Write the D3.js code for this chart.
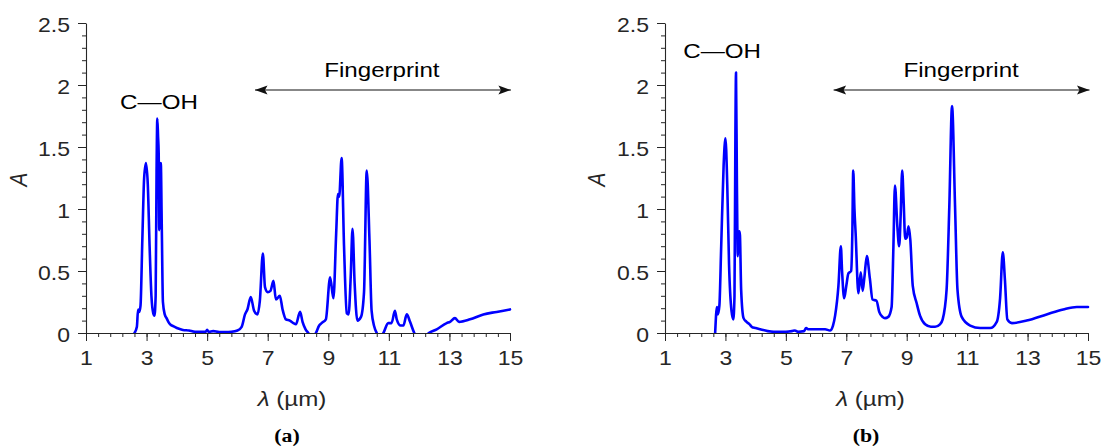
<!DOCTYPE html>
<html>
<head>
<meta charset="utf-8">
<script src="https://cdn.jsdelivr.net/npm/d3@7"></script>
<style>
  html, body { margin: 0; padding: 0; background: #fff; }
  svg { display: block; }
  text { font-family: "Liberation Sans", Arial, Helvetica, sans-serif; }
  text.tag { font-family: "Liberation Serif", "Times New Roman", serif; }
</style>
</head>
<body>
<svg id="chart" width="1104" height="448"></svg>
<script>
// ---- Axis ticks ----
const lambdaTicks = [1, 3, 5, 7, 9, 11, 13, 15];
const lambdaMinorTicks = d3.range(0, 36).map(i => +(1 + i * 0.4).toFixed(2));
const absTicks = [0, 0.5, 1, 1.5, 2, 2.5];
const absMinorTicks = d3.range(0, 26).map(i => +(i * 0.1).toFixed(2));

// ---- Spectrum (a) ----
const lambdaA = [2.60, 2.68, 2.72, 2.76, 2.80, 2.86, 2.92, 2.98, 3.04, 3.10, 3.16, 3.22, 3.26, 3.30, 3.33, 3.355, 3.38, 3.40, 3.42, 3.45, 3.47, 3.50, 3.54, 3.60, 3.66, 3.72, 3.78, 3.88, 4.00, 4.20, 4.40, 4.60, 4.80, 4.95, 5.00, 5.05, 5.20, 5.40, 5.60, 5.80, 6.00, 6.14, 6.25, 6.33, 6.44, 6.55, 6.66, 6.74, 6.84, 6.91, 7.00, 7.09, 7.19, 7.27, 7.40, 7.49, 7.60, 7.73, 7.85, 7.93, 8.07, 8.15, 8.25, 8.34, 8.46, 8.59, 8.70, 8.78, 8.92, 9.06, 9.17, 9.26, 9.32, 9.36, 9.44, 9.52, 9.61, 9.67, 9.74, 9.80, 9.87, 9.96, 10.08, 10.18, 10.27, 10.36, 10.43, 10.52, 10.60, 10.70, 10.82, 10.98, 11.09, 11.20, 11.26, 11.39, 11.48, 11.59, 11.70, 11.84, 12.05, 12.32, 12.58, 12.91, 13.02, 13.18, 13.32, 13.68, 14.12, 14.56, 15.00];
const absA = [0.00, 0.05, 0.19, 0.17, 0.22, 0.75, 1.25, 1.37, 1.20, 0.70, 0.30, 0.16, 0.14, 0.30, 1.30, 1.73, 1.58, 1.45, 0.83, 1.30, 1.37, 0.90, 0.25, 0.15, 0.12, 0.09, 0.07, 0.055, 0.04, 0.025, 0.02, 0.01, 0.01, 0.01, 0.025, 0.01, 0.015, 0.008, 0.008, 0.01, 0.02, 0.05, 0.15, 0.19, 0.29, 0.18, 0.15, 0.26, 0.64, 0.37, 0.33, 0.34, 0.42, 0.27, 0.30, 0.19, 0.11, 0.10, 0.08, 0.07, 0.17, 0.09, 0.03, 0.00, -0.05, 0.00, 0.06, 0.08, 0.11, 0.45, 0.28, 0.80, 1.12, 1.10, 1.41, 0.70, 0.16, 0.15, 0.45, 0.84, 0.40, 0.10, 0.13, 0.33, 1.31, 0.75, 0.18, 0.05, 0.00, -0.04, 0.00, 0.08, 0.08, 0.18, 0.11, 0.06, 0.06, 0.15, 0.09, 0.00, -0.06, 0.00, 0.03, 0.08, 0.09, 0.12, 0.09, 0.11, 0.15, 0.17, 0.19];

// ---- Spectrum (b) ----
const lambdaB = [2.66, 2.72, 2.75, 2.80, 2.86, 2.94, 3.00, 3.06, 3.12, 3.20, 3.26, 3.30, 3.33, 3.35, 3.38, 3.41, 3.44, 3.46, 3.48, 3.52, 3.60, 3.70, 3.80, 3.87, 4.00, 4.15, 4.40, 4.60, 5.00, 5.20, 5.30, 5.40, 5.60, 5.67, 5.75, 5.90, 6.10, 6.30, 6.46, 6.56, 6.63, 6.74, 6.82, 6.86, 6.93, 7.00, 7.07, 7.16, 7.20, 7.23, 7.27, 7.31, 7.40, 7.48, 7.54, 7.60, 7.68, 7.78, 7.87, 8.00, 8.09, 8.20, 8.28, 8.39, 8.50, 8.56, 8.61, 8.69, 8.75, 8.80, 8.85, 8.90, 8.95, 9.00, 9.06, 9.12, 9.20, 9.33, 9.44, 9.61, 9.80, 9.94, 10.10, 10.19, 10.32, 10.41, 10.50, 10.60, 10.68, 10.82, 11.10, 11.43, 11.76, 11.98, 12.09, 12.18, 12.25, 12.33, 12.48, 12.97, 13.63, 14.18, 14.63, 15.00];
const absB = [0.00, 0.21, 0.15, 0.22, 0.70, 1.35, 1.57, 1.20, 0.55, 0.18, 0.11, 0.30, 1.60, 2.10, 1.20, 0.62, 0.80, 0.82, 0.79, 0.35, 0.12, 0.09, 0.07, 0.05, 0.04, 0.03, 0.015, 0.01, 0.01, 0.015, 0.02, 0.01, 0.015, 0.04, 0.03, 0.03, 0.03, 0.03, 0.02, 0.06, 0.14, 0.38, 0.70, 0.50, 0.28, 0.38, 0.48, 0.50, 0.80, 1.31, 1.00, 0.80, 0.32, 0.49, 0.34, 0.45, 0.62, 0.44, 0.27, 0.26, 0.17, 0.13, 0.12, 0.13, 0.21, 0.70, 1.19, 0.86, 0.70, 0.95, 1.31, 1.05, 0.76, 0.77, 0.86, 0.75, 0.38, 0.24, 0.14, 0.07, 0.05, 0.05, 0.07, 0.11, 0.35, 1.02, 1.83, 1.02, 0.35, 0.13, 0.06, 0.04, 0.04, 0.09, 0.28, 0.65, 0.43, 0.11, 0.08, 0.10, 0.15, 0.19, 0.21, 0.21];

// ---- Annotations (data coordinates) ----
const panelTags = ["(a)", "(b)"];
const bondLabel = "C\u2014OH";
const bondLabelPos = [[3.41, 1.806], [2.89, 2.218]];
const regionLabel = "Fingerprint";
const regionLabelPos = [[10.77, 2.065], [10.80, 2.065]];
const regionArrow = [[6.58, 15.03, 1.96], [6.58, 15.05, 1.96]];

const W = 1104, H = 448;
const HS = 1.15;           // horizontal stretch applied to all lettering
const axisColor = "#262626";
const lineColor = "#0000ff";

const svg = d3.select("#chart");

// arrowhead marker (notched)
const defs = svg.append("defs");
defs.append("marker")
  .attr("id", "head")
  .attr("viewBox", "-13 -6 14 12")
  .attr("refX", 0).attr("refY", 0)
  .attr("markerWidth", 14).attr("markerHeight", 12)
  .attr("markerUnits", "userSpaceOnUse")
  .attr("orient", "auto-start-reverse")
  .append("path")
  .attr("d", "M0,0 L-12.5,-4.5 L-10,0 L-12.5,4.5 Z")
  .attr("fill", "#111");

const panels = [
  { x0: 86, x1: 510, lambda: lambdaA, abs: absA, tagX: 287, ylabX: 18.5 },
  { x0: 665, x1: 1088, lambda: lambdaB, abs: absB, tagX: 866, ylabX: 597 }
];
const yTop = 23, yBot = 333;

function stretchedText(g, x, y, str, opts = {}) {
  const t = g.append("g")
    .attr("transform", `translate(${x},${y}) scale(${HS},1)` + (opts.rotate ? ` rotate(${opts.rotate})` : ""))
    .append("text")
    .attr("text-anchor", opts.anchor || "middle")
    .attr("font-size", opts.size || 21)
    .attr("fill", opts.fill || "#000");
  if (opts.dy) t.attr("dy", opts.dy);
  return t.text(str);
}

panels.forEach((p, i) => {
  const x = d3.scaleLinear().domain([1, 15]).range([p.x0, p.x1]);
  const y = d3.scaleLinear().domain([0, 2.5]).range([yBot, yTop]);
  const g = svg.append("g");

  const clipId = "clip" + i;
  defs.append("clipPath").attr("id", clipId)
    .append("rect")
    .attr("x", x(1)).attr("y", y(2.5) - 5)
    .attr("width", x(15) - x(1) + 3).attr("height", y(0) - y(2.5) + 5);

  // minor ticks
  g.append("g").attr("transform", `translate(0,${yBot})`)
    .call(d3.axisBottom(x).tickValues(lambdaMinorTicks).tickSize(4).tickSizeOuter(0).tickFormat(""))
    .call(a => a.select(".domain").remove())
    .call(a => a.selectAll("line").attr("stroke", axisColor));
  g.append("g").attr("transform", `translate(${p.x0},0)`)
    .call(d3.axisLeft(y).tickValues(absMinorTicks).tickSize(4).tickSizeOuter(0).tickFormat(""))
    .call(a => a.select(".domain").remove())
    .call(a => a.selectAll("line").attr("stroke", axisColor));

  // major ticks + labels
  const xa = g.append("g").attr("transform", `translate(0,${yBot})`)
    .call(d3.axisBottom(x).tickValues(lambdaTicks).tickSize(8).tickSizeOuter(0).tickFormat(d3.format("d")));
  xa.select(".domain").attr("stroke", axisColor).attr("stroke-width", 1.1);
  xa.selectAll("line").attr("stroke", axisColor);
  xa.selectAll("text")
    .attr("y", 0).attr("dy", 0)
    .attr("transform", `translate(0,32) scale(${HS},1)`)
    .attr("font-size", 20).attr("fill", axisColor)
    .attr("font-family", "'Liberation Sans', Arial, sans-serif");

  const ya = g.append("g").attr("transform", `translate(${p.x0},0)`)
    .call(d3.axisLeft(y).tickValues(absTicks).tickSize(8).tickSizeOuter(0).tickFormat(d => d3.format("~g")(d)));
  ya.select(".domain").attr("stroke", axisColor).attr("stroke-width", 1.1);
  ya.selectAll("line").attr("stroke", axisColor);
  ya.selectAll("text")
    .attr("x", 0).attr("dy", "0.36em")
    .attr("transform", `translate(-16,1) scale(${HS},1)`)
    .attr("font-size", 20).attr("fill", axisColor)
    .attr("font-family", "'Liberation Sans', Arial, sans-serif");

  // axis titles
  const xl = stretchedText(g, (p.x0 + p.x1) / 2 - 6, 406, "", { size: 21, fill: axisColor });
  xl.append("tspan").attr("font-style", "italic").text("\u03bb");
  xl.append("tspan").text(" (\u00b5m)");
  stretchedText(g, p.ylabX, 179.5, "A", { size: 21, fill: axisColor, rotate: -90, dy: "0.35em" })
    .attr("font-style", "italic");

  // spectrum
  const line = d3.line()
    .x((d, k) => x(p.lambda[k]))
    .y(d => y(d))
    .curve(d3.curveMonotoneX);
  g.append("path")
    .datum(p.abs)
    .attr("clip-path", `url(#${clipId})`)
    .attr("fill", "none")
    .attr("stroke", lineColor)
    .attr("stroke-width", 2.6)
    .attr("stroke-linejoin", "round")
    .attr("stroke-linecap", "round")
    .attr("d", line);

  // fingerprint arrow
  const ar = regionArrow[i];
  g.append("line")
    .attr("x1", x(ar[0])).attr("x2", x(ar[1]))
    .attr("y1", y(ar[2])).attr("y2", y(ar[2]))
    .attr("stroke", "#111").attr("stroke-width", 1.1)
    .attr("marker-start", "url(#head)")
    .attr("marker-end", "url(#head)");
  stretchedText(g, x(regionLabelPos[i][0]), y(regionLabelPos[i][1]), regionLabel, { size: 21 });
  stretchedText(g, x(bondLabelPos[i][0]), y(bondLabelPos[i][1]), bondLabel, { size: 21 });

  // panel tag
  stretchedText(g, p.tagX, 442, panelTags[i], { size: 19 })
    .attr("class", "tag")
    .attr("font-weight", "bold");
});
</script>
</body>
</html>
